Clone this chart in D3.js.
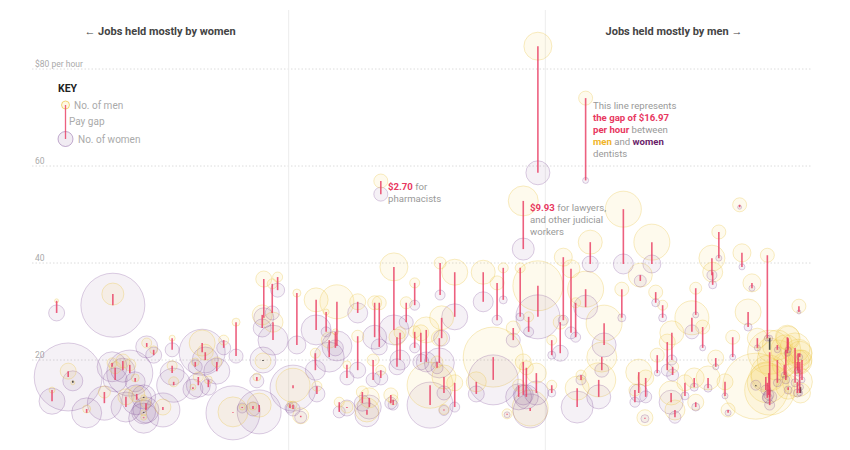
<!DOCTYPE html>
<html><head><meta charset="utf-8">
<script src="https://cdn.jsdelivr.net/npm/d3@7"></script>
<style>body{margin:0;background:#fff;} svg{display:block;font-family:Roboto,"Open Sans",sans-serif;}</style>
</head><body><svg id="c" width="850" height="450"></svg>
<script>
// share of men in the occupation (%)
const shareMen = [3.2,10.5,4.7,5.3,2.6,7.1,10.4,11.8,10.8,12.7,13.4,9.4,12.2,13.6,14.5,14.8,14.5,14.5,17.0,14.9,15.8,18.2,18.2,18.4,22.1,22.5,21.2,24.0,24.9,26.5,21.6,22.9,20.9,29.2,30.0,26.1,29.5,27.3,28.7,30.1,31.2,31.9,29.9,31.3,34.4,33.9,33.5,33.9,34.9,37.0,36.9,39.6,38.2,36.8,40.9,39.9,38.6,39.4,47.0,53.0,54.9,58.6,61.2,60.4,63.4,65.7,69.0,70.0,71.9,70.6,76.6,74.3,74.0,73.6,70.8,71.3,67.5,63.2,63.8,64.2,65.5,64.7,61.7,64.5,62.5,67.5,68.6,79.0,81.0,81.9,81.2,82.5,78.8,79.7,78.3,79.6,76.8,80.5,72.5,91.9,89.2,88.3,88.4,92.2,93.5,95.5,93.0,99.6,86.2,85.7,87.1,91.0,94.2,88.8,90.0,90.4,83.5,83.0,83.1,83.2,84.8,86.0,87.8,86.2,94.0,95.8,99.8,96.8,98.2,99.1,99.7,100.0,99.4,96.8,97.7,97.9,95.8,95.7,95.3,95.5,99.4,98.2,95.8,98.1,99.5,99.7,42.3,44.5,45.1,48.6,49.7,42.3,44.3,47.4,47.8,49.7,50.5,51.2,52.9,53.2,52.6,43.8,42.9,46.6,46.9,45.3,51.7,53.5,54.9,53.5,57.7,59.9,43.5,40.9,65.7,71.9,45.3,63.8];
// median hourly wage, men ($)
const wageMen = [32.2,33.6,17.7,15.3,13.8,9.9,19.4,19.8,18.4,19.0,16.3,13.4,12.4,13.0,12.2,11.1,9.1,8.2,10.3,23.5,22.1,24.5,18.8,15.5,23.5,21.6,19.6,19.6,24.1,27.8,16.5,15.9,14.4,16.5,19.8,9.3,10.7,10.3,10.5,36.7,35.7,37.1,29.3,27.8,33.8,14.8,10.9,10.7,8.5,14.6,32.4,32.0,29.9,21.4,19.0,11.3,24.1,25.8,39.2,40.0,38.1,38.1,39.0,35.9,39.0,35.3,41.2,38.8,34.6,31.8,34.6,27.6,20.6,15.9,14.2,16.9,14.8,14.8,19.6,18.4,17.3,10.1,8.9,28.9,26.6,24.1,27.8,37.5,34.0,31.3,21.0,23.7,17.5,16.3,13.8,8.1,51.1,44.3,44.3,52.0,46.4,41.0,38.1,42.1,35.9,41.6,29.9,31.1,34.8,28.7,26.8,24.7,24.5,20.4,15.5,9.7,9.7,13.2,25.6,18.6,15.3,16.3,16.3,11.3,14.6,22.1,13.2,23.1,24.5,22.5,21.4,20.0,19.6,20.0,19.0,22.1,21.6,17.3,16.5,15.3,15.5,14.4,13.8,24.7,21.4,19.6,32.0,31.8,31.8,31.8,35.9,24.9,20.0,24.7,25.6,25.8,25.6,26.2,24.5,28.7,19.6,12.2,13.4,12.8,11.8,17.9,14.8,16.5,15.3,9.8,15.5,20.6,9.7,10.3,84.7,74.0,56.9,52.8];
// median hourly wage, women ($)
const wageWomen = [29.7,31.3,16.5,15.7,11.5,9.1,18.6,17.9,15.9,17.3,15.5,11.1,10.3,11.8,12.4,9.7,9.3,8.0,9.7,22.7,21.0,22.1,17.3,14.8,21.6,20.0,18.6,17.7,22.5,20.8,14.8,14.4,14.0,15.7,20.0,9.1,9.3,10.1,9.9,28.7,29.7,34.4,26.6,24.1,23.1,14.2,10.1,9.9,8.2,13.0,26.2,22.9,25.8,17.9,16.3,9.3,20.6,22.5,26.2,33.4,28.9,32.0,32.4,28.2,28.9,28.9,28.2,25.6,30.9,24.7,28.7,23.1,17.9,12.4,10.3,15.9,13.2,12.4,12.8,12.4,13.2,9.5,8.7,25.8,24.1,21.0,21.4,36.3,31.8,28.7,17.3,17.9,13.2,12.4,11.3,7.9,39.8,39.8,39.8,51.5,41.0,37.5,35.5,39.2,34.8,24.5,26.8,29.9,29.3,25.8,22.5,20.6,22.5,18.6,12.6,9.1,8.2,11.3,20.0,16.9,12.6,14.4,14.2,10.3,14.8,24.5,14.4,22.1,22.1,15.3,20.6,15.9,17.9,15.3,16.9,15.9,12.4,12.8,13.8,12.2,13.2,13.8,10.7,21.4,17.3,13.2,29.7,24.7,22.7,27.8,31.3,17.9,15.9,18.6,20.0,22.5,19.6,19.6,19.4,24.5,18.4,10.3,11.1,11.1,10.7,16.3,10.7,13.2,10.3,9.6,13.0,15.9,8.7,10.1,58.6,57.03,54.2,42.87];
// number of workers, men (thousands)
const countMen = [4,121,64,4,9,16,25,49,36,36,16,36,64,64,9,25,9,9,64,25,16,9,25,25,169,64,16,25,25,16,25,16,9,16,64,225,144,9,16,64,25,25,100,100,16,289,9,16,64,25,144,289,9,25,16,25,64,9,196,36,169,144,25,49,25,625,81,81,324,25,49,324,225,289,144,25,25,36,64,49,100,324,25,25,49,25,49,144,49,25,49,64,169,64,36,64,324,324,144,49,49,169,100,81,81,49,169,49,36,289,49,49,100,64,64,49,100,144,144,36,64,100,144,64,1089,144,100,225,144,225,144,100,144,400,144,225,484,324,225,400,225,144,625,144,196,144,64,49,49,36,25,36,36,64,36,36,64,169,64,144,36,100,36,49,25,25,529,144,64,25,100,900,144,36,196,49,49,225];
// number of workers, women (thousands)
const countWomen = [64,1024,1156,100,169,225,225,144,144,529,100,289,225,225,144,169,144,225,289,121,64,49,144,289,529,169,49,169,49,49,144,64,100,49,169,729,484,25,49,100,49,49,81,225,81,529,25,49,36,64,225,225,25,100,49,36,225,64,225,25,169,100,16,25,16,484,25,36,144,25,16,144,49,144,256,25,16,169,100,144,144,289,9,25,49,16,64,36,16,16,9,36,81,36,25,16,100,81,64,4,9,25,16,9,9,9,16,4,9,49,9,9,9,9,9,9,36,144,25,36,16,16,16,16,25,9,9,9,9,16,9,9,9,16,9,16,49,25,25,25,16,16,25,9,9,9,100,144,64,49,25,64,49,64,100,25,64,100,225,64,36,144,64,36,25,49,529,49,25,25,64,625,144,64,144,9,49,121];
const yTicks = [20, 40, 60, 80];

const svg = d3.select("#c");
const x = d3.scaleLinear().domain([0, 100]).range([32, 802]);
const y = d3.scaleLinear().domain([0, 80]).range([457, 69]);
const r = d3.scaleSqrt().domain([0, 1600]).range([0, 40]);

// grid
const g = svg.append("g");
yTicks.forEach(t => {
  g.append("line").attr("x1", 32).attr("x2", 812).attr("y1", y(t)).attr("y2", y(t))
    .attr("stroke", "#dcdcdc").attr("stroke-dasharray", "1.5,2");
  g.append("text").attr("x", 35).attr("y", y(t) - 2.5).attr("font-size", 8.5).attr("fill", "#aaa")
    .text(t === 80 ? "$80 per hour" : t);
});
[100/3, 200/3].forEach(v => {
  g.append("line").attr("x1", x(v)).attr("x2", x(v)).attr("y1", 10).attr("y2", 450)
    .attr("stroke", "#ededed");
});

svg.append("text").attr("x", 160).attr("y", 34.5).attr("text-anchor", "middle")
  .attr("font-size", 11).attr("font-weight", 700).attr("fill", "#444").text("\u2190 Jobs held mostly by women");
svg.append("text").attr("x", 674).attr("y", 34.5).attr("text-anchor", "middle")
  .attr("font-size", 11).attr("font-weight", 700).attr("fill", "#444").text("Jobs held mostly by men \u2192");

const data = shareMen.map((s, i) => ({s, wm: wageMen[i], ww: wageWomen[i], cm: countMen[i], cw: countWomen[i]}));

const circles = [];
data.forEach(d => {
  circles.push({cx: x(d.s), cy: y(d.ww), r: r(d.cw), sex: "w"});
  circles.push({cx: x(d.s), cy: y(d.wm), r: r(d.cm), sex: "m"});
});
circles.sort((a, b) => b.r - a.r);
svg.append("g").selectAll("circle").data(circles).join("circle")
  .attr("cx", d => d.cx).attr("cy", d => d.cy).attr("r", d => d.r)
  .attr("fill", d => d.sex === "w" ? "rgba(120,70,140,0.075)" : "rgba(245,210,80,0.10)")
  .attr("stroke", d => d.sex === "w" ? "rgba(125,75,150,0.30)" : "rgba(235,200,80,0.38)")
  .attr("stroke-width", 0.9);

svg.append("g").selectAll("line").data(data).join("line")
  .attr("x1", d => x(d.s)).attr("x2", d => x(d.s))
  .attr("y1", d => y(d.wm)).attr("y2", d => y(d.ww))
  .attr("stroke", d => d.wm >= d.ww ? "#e8385f" : "#333")
  .attr("stroke-opacity", d => d.wm >= d.ww ? 0.8 : 0.85)
  .attr("stroke-width", 1.6);

// key
const k = svg.append("g");
k.append("text").attr("x", 58).attr("y", 92).attr("font-size", 10.5).attr("font-weight", 700).attr("fill", "#222").text("KEY");
k.append("circle").attr("cx", 65.5).attr("cy", 139).attr("r", 7.5).attr("fill", "rgba(120,70,140,0.1)").attr("stroke", "rgba(125,75,150,0.45)");
k.append("circle").attr("cx", 65.5).attr("cy", 105).attr("r", 4).attr("fill", "rgba(245,205,70,0.15)").attr("stroke", "rgba(235,195,70,0.7)");
k.append("line").attr("x1", 65.5).attr("x2", 65.5).attr("y1", 105).attr("y2", 139).attr("stroke", "#e8385f").attr("stroke-opacity", 0.8).attr("stroke-width", 1.3);
k.append("text").attr("x", 74).attr("y", 109).attr("font-size", 10).attr("fill", "#aaa").text("No. of men");
k.append("text").attr("x", 69).attr("y", 125).attr("font-size", 10).attr("fill", "#aaa").text("Pay gap");
k.append("text").attr("x", 78).attr("y", 143).attr("font-size", 10).attr("fill", "#aaa").text("No. of women");

// annotations
function note(xp, yp, parts) {
  parts.forEach((line, i) => {
    const t = svg.append("text").attr("x", xp).attr("y", yp + i * 12).attr("font-size", 9.6).attr("fill", "#999");
    line.forEach(p => t.append("tspan").text(p[0]).attr("fill", p[1] || "#999").attr("font-weight", p[1] ? 700 : 400));
  });
}
const RED = "#e8385f", GOLD = "#f0b429", PURP = "#6b1f6b";
note(593, 108.5, [[["This line represents"]], [["the gap of $16.97", RED]], [["per hour", RED], [" between"]], [["men", GOLD], [" and "], ["women", PURP]], [["dentists"]]]);
note(388, 190, [[["$2.70", RED], [" for"]], [["pharmacists"]]]);
note(530, 211, [[["$9.93", RED], [" for lawyers,"]], [["and other judicial"]], [["workers"]]]);
</script></body></html>
